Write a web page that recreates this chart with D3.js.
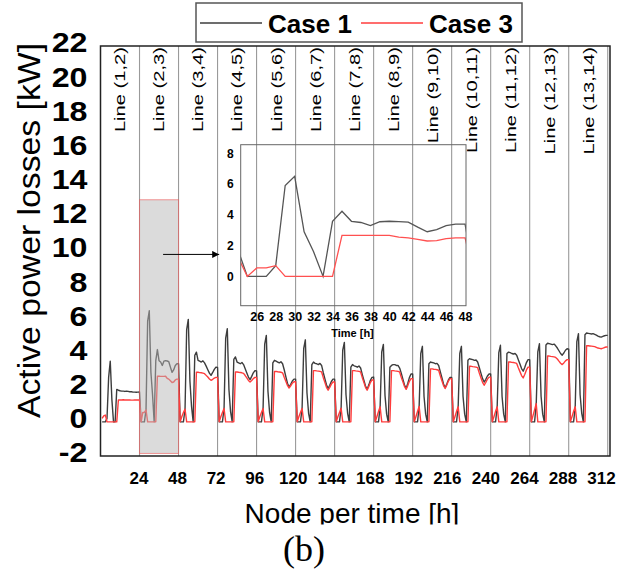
<!DOCTYPE html>
<html><head><meta charset="utf-8">
<script src="https://cdn.jsdelivr.net/npm/d3@7"></script>
<style>body{margin:0;background:#fff} svg{display:block;font-family:"Liberation Sans",Arial,sans-serif}</style>
</head><body><svg id="c" width="628" height="569"></svg>
<script>
const lineNames = ["Line (1,2)","Line (2,3)","Line (3,4)","Line (4,5)","Line (5,6)","Line (6,7)","Line (7,8)","Line (8,9)","Line (9,10)","Line (10,11)","Line (11,12)","Line (12,13)","Line (13,14)"];
const xTicks = [24,48,72,96,120,144,168,192,216,240,264,288,312];
const yTicks = [-2,0,2,4,6,8,10,12,14,16,18,20,22];
const insetXTicks = [26,28,30,32,34,36,38,40,42,44,46,48];
const insetYTicks = [0,2,4,6,8];
const seriesNames = ["Case 1","Case 3"];

// hourly values, 24 per line (hour 1..24 of each line block)
const case1ByLine = [
 [0,0,0,0.2,2.6,3.55,1.3,0,0,1.9,1.85,1.82,1.8,1.8,1.78,1.8,1.78,1.76,1.76,1.74,1.74,1.73,1.74,1.75],
 [0,0,0,0.7,5.9,6.5,2.9,1.6,0,3.58,4.23,3.58,3.5,3.3,3.55,3.58,3.56,3.52,3.2,2.9,3.04,3.3,3.4,3.4],
 [0,0,0,0.75,5.4,6.0,2.4,0.9,0,3.9,4.08,3.6,3.55,3.5,3.57,3.45,3.26,3.05,2.85,2.72,2.89,3.07,3.2,3.18],
 [0,0,0,0.78,4.9,5.45,1.9,0.6,0,3.65,3.8,3.5,3.45,3.4,3.47,3.35,3.11,2.86,2.62,2.47,2.66,2.87,3.0,2.98],
 [0,0,0,0.78,4.55,5.06,1.8,0.55,0,3.45,3.6,3.55,3.5,3.45,3.52,3.4,3.05,2.65,2.26,2.04,2.2,2.39,2.5,2.5],
 [0,0,0,0.78,4.3,4.8,1.7,0.5,0,3.35,3.5,3.42,3.4,3.35,3.42,3.3,2.89,2.53,2.17,1.95,2.14,2.36,2.5,2.5],
 [0,0,0,0.8,4.2,4.65,1.6,0.5,0,3.2,3.35,3.28,3.25,3.2,3.27,3.15,2.78,2.44,2.1,1.9,2.15,2.43,2.6,2.62],
 [0,0,0,0.88,4.1,4.53,1.55,0.45,0,3.2,3.3,3.35,3.35,3.3,3.3,3.15,2.85,2.5,2.16,1.95,2.25,2.59,2.8,2.8],
 [0,0,0,0.9,4.0,4.42,1.5,0.45,0,3.4,3.5,3.47,3.45,3.4,3.42,3.3,2.94,2.58,2.22,2.0,2.21,2.45,2.6,2.6],
 [0,0,0,0.88,4.0,4.42,1.5,0.45,0,3.6,3.7,3.66,3.64,3.6,3.62,3.5,3.18,2.85,2.53,2.33,2.49,2.68,2.8,2.8],
 [0,0,0,0.88,4.05,4.48,1.5,0.45,0,4.0,4.08,4.05,4.0,3.97,4.0,3.9,3.64,3.38,3.12,2.96,3.2,3.47,3.64,3.64],
 [0,0,0,1.0,4.1,4.57,1.5,0.45,0,4.5,4.6,4.58,4.55,4.52,4.55,4.45,4.32,4.16,4.0,3.9,4.03,4.19,4.28,4.25],
 [0,0,0,0.88,4.7,5.16,1.6,0.5,0,5.1,5.2,5.18,5.16,5.14,5.16,5.12,5.08,5.02,4.98,4.96,5.0,5.04,5.06,5.06]
];
const case3ByLine = [
 [0.2,0.35,0.4,0,0,0,0,0,0,0,1.28,1.28,1.28,1.29,1.28,1.28,1.28,1.28,1.27,1.27,1.28,1.28,1.28,1.28],
 [0,0.55,0.55,0.7,0,0,0,0,0,0,2.67,2.67,2.66,2.66,2.66,2.67,2.55,2.5,2.4,2.3,2.33,2.45,2.5,2.5],
 [0,0.3,0.55,0.75,0,0,0,0,0,0,2.9,2.9,2.88,2.87,2.85,2.82,2.72,2.62,2.51,2.43,2.49,2.56,2.6,2.6],
 [0,0.3,0.55,0.78,0,0,0,0,0,0,2.92,2.92,2.9,2.89,2.87,2.84,2.71,2.57,2.42,2.33,2.42,2.53,2.6,2.6],
 [0,0.3,0.55,0.78,0,0,0,0,0,0,2.95,2.95,2.93,2.92,2.9,2.87,2.61,2.37,2.13,1.98,2.11,2.26,2.35,2.35],
 [0,0.3,0.55,0.78,0,0,0,0,0,0,3.0,3.0,2.98,2.97,2.95,2.92,2.6,2.31,2.02,1.85,2.02,2.21,2.33,2.33],
 [0,0.3,0.55,0.8,0,0,0,0,0,0,3.0,3.0,2.98,2.97,2.95,2.92,2.6,2.31,2.02,1.85,2.06,2.3,2.45,2.45],
 [0,0.3,0.6,0.88,0,0,0,0,0,0,3.0,3.0,2.98,2.97,2.95,2.92,2.61,2.34,2.07,1.9,2.12,2.37,2.53,2.53],
 [0,0.3,0.6,0.9,0,0,0,0,0,0,3.1,3.1,3.08,3.07,3.05,3.02,2.7,2.41,2.12,1.95,2.15,2.39,2.53,2.53],
 [0,0.3,0.6,0.88,0,0,0,0,0,0,3.25,3.25,3.23,3.22,3.2,3.17,2.86,2.58,2.31,2.14,2.31,2.5,2.62,2.62],
 [0,0.3,0.6,0.88,0,0,0,0,0,0,3.5,3.5,3.48,3.47,3.45,3.42,3.17,2.94,2.71,2.57,2.79,3.04,3.2,3.2],
 [0,0.35,0.7,1.07,0,0,0,0,0,0,3.85,3.85,3.83,3.82,3.8,3.77,3.68,3.55,3.43,3.35,3.45,3.57,3.64,3.64],
 [0,0.3,0.6,0.88,0,0,0,0,0,0,4.45,4.45,4.44,4.43,4.42,4.4,4.36,4.32,4.3,4.28,4.31,4.35,4.38,4.38]
];
const zoomWindow = [24, 48];   // highlighted block (hours)
const zoomBoxValues = [-1.85, 13];

function flatten(byLine){
  const out=[];
  byLine.forEach((day,k)=>day.forEach((v,i)=>out.push({h:24*k+i+1,v})));
  return out;
}
const case1 = flatten(case1ByLine), case3 = flatten(case3ByLine);
const C1="#3d3d3d", C3="#ff3c3c";
const fmt = d=>String(d);

const svg=d3.select("#c");
svg.append("rect").attr("width",628).attr("height",569).attr("fill","#fff");
const P={l:100.5,r:610,t:46,b:456};
const x=d3.scaleLinear().domain([0,313.4]).range([P.l,P.r]);
const xLab=d3.scaleLinear().domain([0,312]).range([100,601]);
const y=d3.scaleLinear().domain([-2,22]).range([P.b,P.t]);

svg.append("defs").append("clipPath").attr("id","pc").append("rect")
  .attr("x",P.l).attr("y",P.t).attr("width",P.r-P.l).attr("height",P.b-P.t);

// grid
svg.append("g").selectAll("line").data(xTicks).join("line")
  .attr("x1",d=>x(d)).attr("x2",d=>x(d)).attr("y1",P.t).attr("y2",P.b)
  .attr("stroke","#9a9a9a").attr("stroke-width",1.1);

// line labels
svg.append("g").selectAll("g").data(lineNames).join("g")
  .attr("transform",(d,i)=>`translate(${x(24*i+12)},47) rotate(-90)`)
  .append("text").attr("text-anchor","end").attr("dy","0.35em")
  .attr("transform","scale(1.3,1)").attr("font-size",15.5).attr("fill","#000").text(d=>d);

// data
const lineMain=d3.line().x(d=>x(d.h)).y(d=>y(d.v));
const gd=svg.append("g").attr("clip-path","url(#pc)");
gd.append("path").datum(case1).attr("d",lineMain).attr("fill","none").attr("stroke",C1).attr("stroke-width",1.4).attr("stroke-linejoin","round");
gd.append("path").datum(case3).attr("d",lineMain).attr("fill","none").attr("stroke",C3).attr("stroke-width",1.4).attr("stroke-linejoin","round");

// highlight box
svg.append("rect").attr("x",x(zoomWindow[0])).attr("width",x(zoomWindow[1])-x(zoomWindow[0]))
  .attr("y",y(zoomBoxValues[1])).attr("height",y(zoomBoxValues[0])-y(zoomBoxValues[1]))
  .attr("fill","#b8b8b8").attr("fill-opacity",0.5).attr("stroke","#ee5555").attr("stroke-opacity",0.6).attr("stroke-width",1);

// frame
svg.append("rect").attr("x",P.l).attr("y",P.t).attr("width",P.r-P.l).attr("height",P.b-P.t)
  .attr("fill","none").attr("stroke","#222").attr("stroke-width",1.5);

// x axis labels
const gx=svg.append("g").attr("transform",`translate(0,${P.b})`)
  .call(d3.axisBottom(xLab).tickValues(xTicks).tickFormat(fmt).tickSize(0).tickPadding(16));
gx.select(".domain").remove();
gx.selectAll("text").attr("font-size",17).attr("font-weight","bold").attr("fill","#000").attr("font-family","Liberation Sans, Arial, sans-serif");

// y axis labels
const gy=svg.append("g").attr("transform",`translate(${P.l},0)`)
  .call(d3.axisLeft(y).tickValues(yTicks).tickFormat(fmt).tickSize(0));
gy.select(".domain").remove();
gy.selectAll("text").attr("x",0).attr("font-size",28).attr("font-weight","bold").attr("fill","#000")
  .attr("font-family","Liberation Sans, Arial, sans-serif")
  .attr("transform","translate(-13,-3) scale(1.15,1)");

// axis titles
svg.append("text").attr("transform","translate(39.5,230.5) rotate(-90)").attr("text-anchor","middle")
  .attr("font-size",32).attr("textLength",375).attr("lengthAdjust","spacingAndGlyphs").text("Active power losses [kW]");
svg.append("text").attr("x",352).attr("y",523).attr("text-anchor","middle").attr("font-size",28).text("Node per time [h]");
svg.append("rect").attr("x",0).attr("y",524.5).attr("width",628).attr("height",45).attr("fill","#fff");
svg.append("text").attr("x",304).attr("y",561).attr("text-anchor","middle").attr("font-size",36)
  .attr("font-family","Liberation Serif, Times New Roman, serif").text("(b)");

// inset
const I={l:240.7,r:466,t:144.7,b:305.7};
const ix=d3.scaleLinear().domain([24.3,48.1]).range([I.l,I.r]);
const iy=d3.scaleLinear().domain([-1.9,8.55]).range([I.b,I.t]);
svg.select("defs").append("clipPath").attr("id","ic").append("rect")
  .attr("x",I.l).attr("y",I.t).attr("width",I.r-I.l).attr("height",I.b-I.t);
const lineIn=d3.line().x(d=>ix(d.h)).y(d=>iy(d.v));
const inWin=d=>d.h>=23&&d.h<=50;
const gi=svg.append("g").attr("clip-path","url(#ic)");
gi.append("path").datum(case1.filter(inWin)).attr("d",lineIn).attr("fill","none").attr("stroke","#555").attr("stroke-width",1.3);
gi.append("path").datum(case3.filter(inWin)).attr("d",lineIn).attr("fill","none").attr("stroke","#ff5050").attr("stroke-width",1.3);
svg.append("rect").attr("x",I.l).attr("y",I.t).attr("width",I.r-I.l).attr("height",I.b-I.t)
  .attr("fill","none").attr("stroke","#666").attr("stroke-width",1);
const gix=svg.append("g").attr("transform",`translate(0,${I.b})`)
  .call(d3.axisBottom(ix).tickValues(insetXTicks).tickFormat(fmt).tickSize(0).tickPadding(6));
gix.select(".domain").remove();
gix.selectAll("text").attr("font-size",12.5).attr("font-weight","bold").attr("fill","#000").attr("font-family","Liberation Sans, Arial, sans-serif");
const giy=svg.append("g").attr("transform",`translate(${I.l},0)`)
  .call(d3.axisLeft(iy).tickValues(insetYTicks).tickFormat(fmt).tickSize(0).tickPadding(7));
giy.select(".domain").remove();
giy.selectAll("text").attr("font-size",12).attr("font-weight","bold").attr("fill","#000").attr("font-family","Liberation Sans, Arial, sans-serif");
svg.append("text").attr("x",352.5).attr("y",337).attr("text-anchor","middle").attr("font-size",11)
  .attr("font-weight","bold").text("Time [h]");

// arrow
svg.select("defs").append("marker").attr("id","ah").attr("viewBox","0 0 10 10").attr("refX",10).attr("refY",5)
  .attr("markerWidth",9).attr("markerHeight",7).attr("markerUnits","userSpaceOnUse").attr("orient","auto")
  .append("path").attr("d","M0,0L10,5L0,10Z").attr("fill","#000");
svg.append("line").attr("x1",x(38.5)).attr("x2",x(73)).attr("y1",y(9.8)).attr("y2",y(9.8))
  .attr("stroke","#000").attr("stroke-width",1).attr("marker-end","url(#ah)");

// legend
const lg=svg.append("g");
lg.append("rect").attr("x",196).attr("y",3).attr("width",326).attr("height",39).attr("fill","#fff")
  .attr("stroke","#555").attr("stroke-width",1.5);
const items=[{n:seriesNames[0],c:C1,x0:200},{n:seriesNames[1],c:C3,x0:361}];
items.forEach(it=>{
  lg.append("line").attr("x1",it.x0).attr("x2",it.x0+62).attr("y1",23).attr("y2",23).attr("stroke",it.c).attr("stroke-width",1.5);
  lg.append("text").attr("x",it.x0+68).attr("y",33).attr("font-size",26).attr("font-weight","bold").text(it.n);
});
</script></body></html>
